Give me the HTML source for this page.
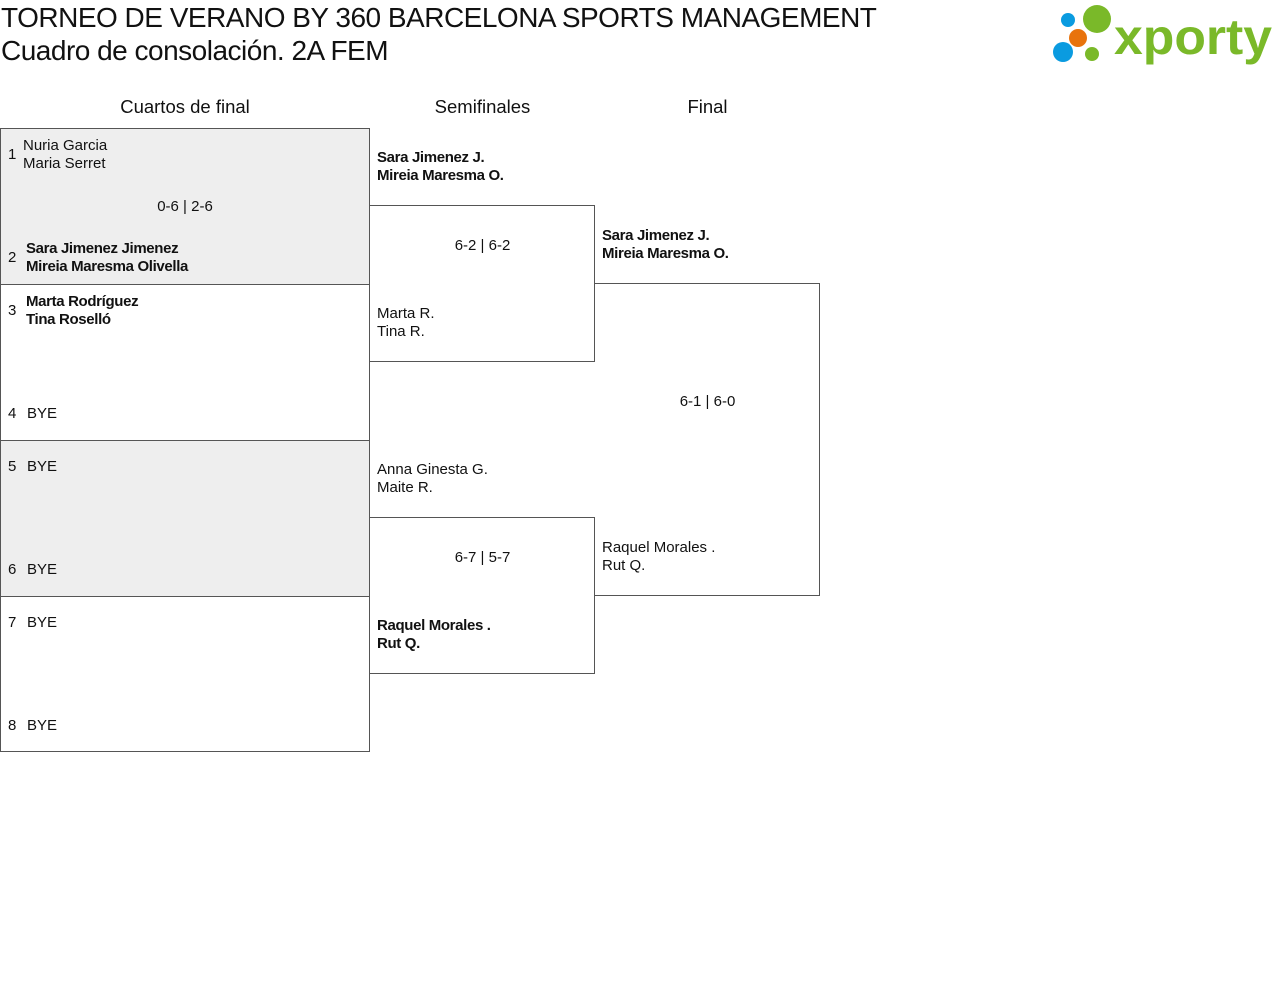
<!DOCTYPE html>
<html><head><meta charset="utf-8"><style>
body{margin:0;width:1280px;height:982px;background:#fff;position:relative;font-family:"Liberation Sans",sans-serif;color:#111;overflow:hidden}
.a{position:absolute;white-space:nowrap}
.t{font-size:15px;line-height:18px}
.b{font-weight:bold;letter-spacing:-0.35px;font-size:15px}
.box{position:absolute;border:1px solid #555;box-sizing:border-box}
.nl{border-left:none}
.h{font-size:18.5px;text-align:center}
</style></head><body>
<div class="a" style="left:1px;top:1px;font-size:28px;line-height:33px;letter-spacing:-0.5px">TORNEO DE VERANO BY 360 BARCELONA SPORTS MANAGEMENT<br>Cuadro de consolación. 2A FEM</div>
<svg class="a" style="left:1050px;top:4px" width="228" height="62">
<circle cx="18" cy="16" r="7" fill="#0a9be0"/><circle cx="47" cy="15" r="14" fill="#7ab929"/>
<circle cx="28" cy="34" r="9" fill="#e8730c"/><circle cx="13" cy="48" r="10" fill="#0a9be0"/><circle cx="42" cy="50" r="7" fill="#7ab929"/>
<text x="64" y="50" font-family="Liberation Sans,sans-serif" font-weight="bold" font-size="50" fill="#7ab929" textLength="158" lengthAdjust="spacingAndGlyphs">xporty</text></svg>
<div class="a h" style="left:0;width:370px;top:96px">Cuartos de final</div>
<div class="a h" style="left:370px;width:225px;top:96px">Semifinales</div>
<div class="a h" style="left:595px;width:225px;top:96px">Final</div>

<div class="box" style="left:0;top:128px;width:370px;height:157px;background:#eee"></div>
<div class="box" style="left:0;top:284px;width:370px;height:157px"></div>
<div class="box" style="left:0;top:440px;width:370px;height:157px;background:#eee"></div>
<div class="box" style="left:0;top:596px;width:370px;height:156px"></div>
<div class="box nl" style="left:370px;top:205px;width:225px;height:157px"></div>
<div class="box nl" style="left:370px;top:517px;width:225px;height:157px"></div>
<div class="box nl" style="left:595px;top:283px;width:225px;height:313px"></div>

<div class="a t" style="left:8px;top:146px">1</div>
<div class="a t" style="left:23px;top:137px">Nuria Garcia<br>Maria Serret</div>
<div class="a t" style="left:0;width:370px;text-align:center;top:198px">0-6 | 2-6</div>
<div class="a t" style="left:8px;top:249px">2</div>
<div class="a t b" style="left:26px;top:240px">Sara Jimenez Jimenez<br>Mireia Maresma Olivella</div>
<div class="a t" style="left:8px;top:302px">3</div>
<div class="a t b" style="left:26px;top:293px">Marta Rodríguez<br>Tina Roselló</div>
<div class="a t" style="left:8px;top:405px">4</div><div class="a t" style="left:27px;top:405px">BYE</div>
<div class="a t" style="left:8px;top:458px">5</div><div class="a t" style="left:27px;top:458px">BYE</div>
<div class="a t" style="left:8px;top:561px">6</div><div class="a t" style="left:27px;top:561px">BYE</div>
<div class="a t" style="left:8px;top:614px">7</div><div class="a t" style="left:27px;top:614px">BYE</div>
<div class="a t" style="left:8px;top:717px">8</div><div class="a t" style="left:27px;top:717px">BYE</div>

<div class="a t b" style="left:377px;top:149px">Sara Jimenez J.<br>Mireia Maresma O.</div>
<div class="a t" style="left:370px;width:225px;text-align:center;top:237px">6-2 | 6-2</div>
<div class="a t" style="left:377px;top:305px">Marta R.<br>Tina R.</div>
<div class="a t" style="left:377px;top:461px">Anna Ginesta G.<br>Maite R.</div>
<div class="a t" style="left:370px;width:225px;text-align:center;top:549px">6-7 | 5-7</div>
<div class="a t b" style="left:377px;top:617px">Raquel Morales .<br>Rut Q.</div>

<div class="a t b" style="left:602px;top:227px">Sara Jimenez J.<br>Mireia Maresma O.</div>
<div class="a t" style="left:595px;width:225px;text-align:center;top:393px">6-1 | 6-0</div>
<div class="a t" style="left:602px;top:539px">Raquel Morales .<br>Rut Q.</div>
</body></html>
